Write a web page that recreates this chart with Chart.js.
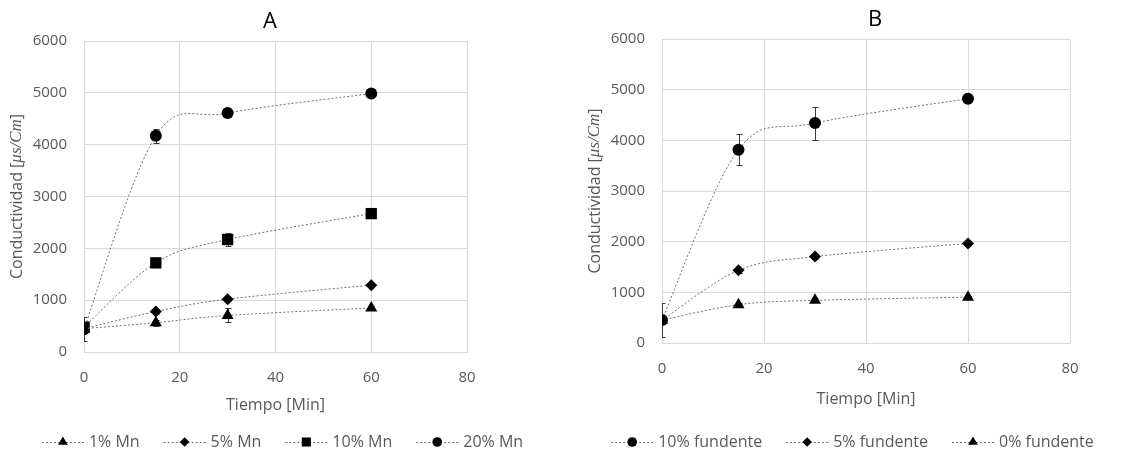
<!DOCTYPE html>
<html>
<head>
<meta charset="utf-8">
<script src="https://cdn.jsdelivr.net/npm/chart.js@4.4.1/dist/chart.umd.min.js"></script>
<style>
  html, body { margin: 0; padding: 0; background: #fff; }
  #wrap { position: relative; width: 1127px; height: 455px; overflow: hidden; }
  canvas { position: absolute; top: 0; }
  #chartA { left: 0; }
  #chartB { left: 578px; }
</style>
</head>
<body>
<div id="wrap">
  <canvas id="chartA" width="565" height="455"></canvas>
  <canvas id="chartB" width="549" height="455"></canvas>
</div>
<script>
  'use strict';

  // sampling times (min)
  const TIMES = [0, 15, 30, 60];

  // panel A: Mn content
  const A_LABELS = ['1% Mn', '5% Mn', '10% Mn', '20% Mn'];
  const A_MN1 = [450, 565, 705, 850];
  const A_MN5 = [450, 780, 1020, 1290];
  const A_MN10 = [480, 1720, 2170, 2670];
  const A_MN20 = [440, 4170, 4610, 4985];
  const A_ERR1 = [60, 60, 135, 40];
  const A_ERR5 = [40, 50, 40, 30];
  const A_ERR10 = [60, 70, 125, 40];
  const A_ERR20 = [230, 130, 40, 30];

  // panel B: flux content
  const B_LABELS = ['10% fundente', '5% fundente', '0% fundente'];
  const B_F10 = [455, 3816, 4340, 4822];
  const B_F5 = [450, 1435, 1705, 1965];
  const B_F0 = [450, 757, 842, 905];
  const B_ERR10 = [340, 300, 325, 40];
  const B_ERR5 = [30, 50, 40, 30];
  const B_ERR0 = [30, 40, 40, 30];

  const X_MIN = 0, X_MAX = 80, X_STEP = 20;
  const Y_MIN = 0, Y_MAX = 6000, Y_STEP = 1000;

  const GRID = '#d9d9d9';
  const TEXT = '#595959';
  const LINE = '#707070';
  const FONT = '"Open Sans", "DejaVu Sans", sans-serif';

  function pts(values) {
    return TIMES.map((t, i) => ({ x: t, y: values[i] }));
  }

  function series(label, values, errors, style, radius) {
    return {
      label,
      data: pts(values),
      errors,
      showLine: true,
      tension: 0.4,
      borderColor: LINE,
      borderWidth: 1,
      borderDash: [2, 2],
      pointStyle: style,
      pointRadius: radius,
      pointHoverRadius: radius,
      pointBackgroundColor: '#000',
      pointBorderColor: '#000',
      pointBorderWidth: 0,
      fill: false,
    };
  }

  function drawMarker(ctx, style, r, x, y) {
    if (Chart.helpers && Chart.helpers.drawPoint) {
      Chart.helpers.drawPoint(ctx, { pointStyle: style, radius: r, rotation: 0, borderWidth: 0 }, x, y);
      return;
    }
    ctx.beginPath();
    ctx.arc(x, y, r, 0, Math.PI * 2);
    ctx.fill();
  }

  // Excel style smoothing: bezier handles at 1/6 of the neighbour chord
  const smooth = {
    id: 'smooth',
    beforeDatasetDraw(chart, args) {
      const meta = args.meta;
      const line = meta.dataset;
      if (!line || !line.updateControlPoints) return;
      line.updateControlPoints(chart.chartArea, meta.iScale ? meta.iScale.axis : 'x');
      const p = meta.data;
      for (let i = 0; i < p.length; i++) {
        const prev = p[i - 1] || p[i];
        const next = p[i + 1] || p[i];
        const dx = (next.x - prev.x) / 6;
        const dy = (next.y - prev.y) / 6;
        p[i].cp1x = p[i].x - dx;
        p[i].cp1y = p[i].y - dy;
        p[i].cp2x = p[i].x + dx;
        p[i].cp2y = p[i].y + dy;
      }
    },
  };

  // error bars, titles and the line+marker legend
  const decor = {
    id: 'decor',
    beforeDatasetsDraw(chart) {
      const { ctx, chartArea: a } = chart;
      const xs = chart.scales.x, ys = chart.scales.y;
      ctx.save();
      ctx.beginPath();
      ctx.rect(a.left, a.top, a.right - a.left, a.bottom - a.top);
      ctx.clip();
      ctx.strokeStyle = '#3a3a3a';
      ctx.lineWidth = 1;
      chart.data.datasets.forEach((ds) => {
        if (!ds.errors) return;
        ds.data.forEach((p, i) => {
          const e = ds.errors[i];
          if (!e) return;
          const x = Math.round(xs.getPixelForValue(p.x)) + 0.5;
          const y1 = Math.round(ys.getPixelForValue(p.y + e)) + 0.5;
          const y2 = Math.round(ys.getPixelForValue(p.y - e)) + 0.5;
          ctx.beginPath();
          ctx.moveTo(x, y1); ctx.lineTo(x, y2);
          ctx.moveTo(x - 3, y1); ctx.lineTo(x + 3, y1);
          ctx.moveTo(x - 3, y2); ctx.lineTo(x + 3, y2);
          ctx.stroke();
        });
      });
      ctx.restore();
    },
    afterDraw(chart, args, opts) {
      const { ctx, chartArea: a } = chart;
      ctx.save();

      // panel title
      ctx.fillStyle = '#000';
      ctx.font = '22px ' + FONT;
      ctx.textAlign = 'center';
      ctx.textBaseline = 'middle';
      ctx.fillText(opts.title, opts.titleX, opts.titleY);

      // y axis title, with the unit in math italics
      const parts = [
        { t: 'Conductividad [', f: '16px ' + FONT },
        { t: 'μs/Cm', f: 'italic 17px "Liberation Serif", "DejaVu Serif", serif' },
        { t: ']', f: '16px ' + FONT },
      ];
      let total = 0;
      parts.forEach((p) => { ctx.font = p.f; p.w = ctx.measureText(p.t).width; total += p.w; });
      ctx.translate(opts.yTitleX, (a.top + a.bottom) / 2);
      ctx.rotate(-Math.PI / 2);
      ctx.fillStyle = TEXT;
      ctx.textAlign = 'left';
      let px = -total / 2;
      parts.forEach((p) => { ctx.font = p.f; ctx.fillText(p.t, px, 0); px += p.w; });
      ctx.setTransform(1, 0, 0, 1, 0, 0);

      // legend
      const SEG = 42, GAP = 5, SEP = 24;
      ctx.font = '16px ' + FONT;
      const items = chart.data.datasets.map((ds) => ({ ds, w: SEG + GAP + ctx.measureText(ds.label).width }));
      const width = items.reduce((s, it) => s + it.w, 0) + SEP * (items.length - 1);
      let x = chart.width / 2 - width / 2;
      const y = opts.legendY;
      items.forEach((it) => {
        ctx.strokeStyle = LINE;
        ctx.lineWidth = 1;
        ctx.setLineDash([2, 2]);
        ctx.beginPath();
        ctx.moveTo(x, y + 0.5);
        ctx.lineTo(x + SEG, y + 0.5);
        ctx.stroke();
        ctx.setLineDash([]);
        ctx.fillStyle = '#000';
        ctx.strokeStyle = '#000';
        drawMarker(ctx, it.ds.pointStyle, it.ds.pointRadius * 0.8, x + SEG / 2, y);
        ctx.fillStyle = TEXT;
        ctx.textAlign = 'left';
        ctx.textBaseline = 'middle';
        ctx.fillText(it.ds.label, x + SEG + GAP, y);
        x += it.w + SEP;
      });
      ctx.restore();
    },
  };

  function makeChart(canvas, datasets, cfg) {
    return new Chart(canvas.getContext('2d'), {
      type: 'scatter',
      data: { datasets },
      options: {
        responsive: false,
        animation: false,
        layout: { padding: { left: 0, right: cfg.right, top: cfg.top, bottom: cfg.bottom } },
        plugins: {
          legend: { display: false },
          tooltip: { enabled: false },
          decor: {
            title: cfg.title,
            titleX: cfg.titleX,
            titleY: cfg.titleY,
            yTitleX: 17,
            legendY: 442,
          },
        },
        scales: {
          x: {
            type: 'linear',
            min: X_MIN,
            max: X_MAX,
            afterFit: (s) => { s.height = 66; },
            ticks: {
              stepSize: X_STEP, color: TEXT, padding: 17,
              font: { family: FONT, size: 15 },
              callback: (v) => String(v),
            },
            grid: { color: GRID, drawTicks: false },
            border: { color: GRID },
            title: {
              display: true,
              text: 'Tiempo [Min]',
              color: TEXT,
              font: { family: FONT, size: 16 },
              padding: { top: 0, bottom: cfg.xTitlePad },
            },
          },
          y: {
            type: 'linear',
            min: Y_MIN,
            max: Y_MAX,
            afterFit: (s) => { s.width = 84; },
            ticks: {
              stepSize: Y_STEP, color: TEXT, padding: 17,
              font: { family: FONT, size: 15 },
              callback: (v) => String(v),
            },
            grid: { color: GRID, drawTicks: false },
            border: { color: GRID },
          },
        },
      },
      plugins: [smooth, decor],
    });
  }

  makeChart(document.getElementById('chartA'), [
    series(A_LABELS[0], A_MN1, A_ERR1, 'triangle', 7),
    series(A_LABELS[1], A_MN5, A_ERR5, 'rectRot', 6),
    series(A_LABELS[2], A_MN10, A_ERR10, 'rect', 8),
    series(A_LABELS[3], A_MN20, A_ERR20, 'circle', 6),
  ], { title: 'A', titleX: 270, titleY: 22, right: 98, top: 41, bottom: 37, xTitlePad: 3 });

  makeChart(document.getElementById('chartB'), [
    series(B_LABELS[0], B_F10, B_ERR10, 'circle', 6),
    series(B_LABELS[1], B_F5, B_ERR5, 'rectRot', 6),
    series(B_LABELS[2], B_F0, B_ERR0, 'triangle', 7),
  ], { title: 'B', titleX: 297, titleY: 20, right: 57, top: 39, bottom: 46, xTitlePad: 0 });
</script>
</body>
</html>
